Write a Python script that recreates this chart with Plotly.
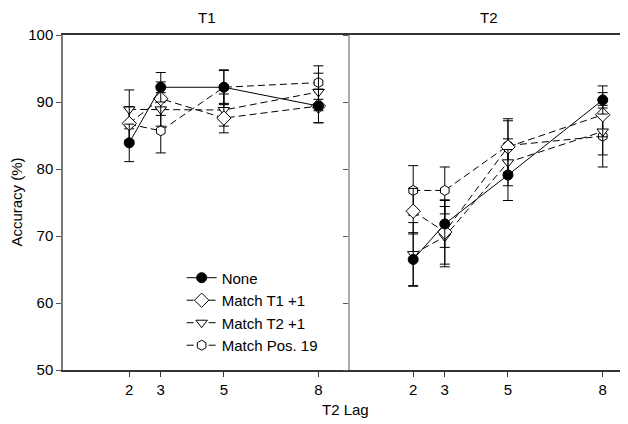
import plotly.graph_objects as go
from plotly.subplots import make_subplots

lags = [2, 3, 5, 8]
tick_labels = ["2", "3", "5", "8"]
series_names = ["None", "Match T1 +1", "Match T2 +1", "Match Pos. 19"]

# T1 panel
t1_none = [83.9, 92.2, 92.2, 89.4]
t1_none_err = [2.8, 2.2, 2.5, 2.5]
t1_m1 = [86.8, 90.5, 87.6, 89.4]
t1_m1_err = [2.5, 2.5, 2.2, 2.5]
t1_m2 = [88.9, 88.9, 88.8, 91.5]
t1_m2_err = [2.9, 2.5, 2.4, 2.8]
t1_p19 = [86.7, 85.7, 92.2, 92.9]
t1_p19_err = [2.5, 3.3, 2.6, 2.5]

# T2 panel
t2_none = [66.5, 71.8, 79.1, 90.3]
t2_none_err = [4.0, 3.5, 3.8, 2.1]
t2_m1 = [73.7, 70.6, 83.3, 88.1]
t2_m1_err = [3.4, 4.8, 3.9, 3.3]
t2_m2 = [67.3, 69.9, 81.0, 85.6]
t2_m2_err = [4.7, 4.5, 3.5, 3.5]
t2_p19 = [76.8, 76.8, 83.5, 84.9]
t2_p19_err = [3.7, 3.5, 4.0, 4.6]

styles = [
    dict(symbol="circle", fill="black", dash="solid", size=10),
    dict(symbol="diamond", fill="white", dash="7px,4px", size=11),
    dict(symbol="triangle-down", fill="white", dash="7px,4px", size=10),
    dict(symbol="hexagon", fill="white", dash="7px,4px", size=10),
]

fig = make_subplots(rows=1, cols=2, horizontal_spacing=0)

panels = [
    (1, [t1_none, t1_m1, t1_m2, t1_p19], [t1_none_err, t1_m1_err, t1_m2_err, t1_p19_err]),
    (2, [t2_none, t2_m1, t2_m2, t2_p19], [t2_none_err, t2_m1_err, t2_m2_err, t2_p19_err]),
]

for col, vals, errs in panels:
    order = [3, 2, 1, 0]
    for i in order:
        st = styles[i]
        fig.add_trace(go.Scatter(
            x=lags, y=vals[i], name=series_names[i],
            mode="lines+markers",
            line=dict(color="black", width=1, dash=st["dash"]),
            marker=dict(symbol=st["symbol"], size=st["size"], color=st["fill"],
                        line=dict(color="black", width=1)),
            error_y=dict(type="data", array=errs[i], visible=True,
                         color="black", thickness=1, width=5),
            showlegend=(col == 1), legendrank=i + 1,
        ), row=1, col=col)

axis_font = dict(family="Liberation Sans, Arial, sans-serif", size=15, color="black")

fig.update_layout(
    width=620, height=416,
    margin=dict(l=55, r=0, t=27, b=54),
    paper_bgcolor="white", plot_bgcolor="white",
    font=axis_font,
    legend=dict(x=0.21, y=0.324, xanchor="left", yanchor="top",
                bgcolor="rgba(0,0,0,0)", font=dict(size=15), tracegroupgap=0,
                itemwidth=30),
)

fig.update_xaxes(domain=[0, 0.508], range=[-0.1, 9.0], row=1, col=1)
fig.update_xaxes(domain=[0.508, 1.0], range=[0, 8.8], row=1, col=2)
fig.update_xaxes(tickmode="array", tickvals=lags, ticktext=tick_labels,
                 ticks="outside", ticklen=5, tickcolor="#333",
                 showline=True, linecolor="#333", linewidth=1.5, mirror=True,
                 showgrid=False, zeroline=False, tickfont=axis_font, automargin=False)

fig.update_yaxes(range=[50, 100], tickvals=[50, 60, 70, 80, 90, 100],
                 ticks="outside", ticklen=5, tickcolor="#555",
                 showline=True, linecolor="#777", linewidth=1.5,
                 showgrid=False, zeroline=False, tickfont=axis_font, automargin=False)
fig.update_yaxes(showticklabels=False, linecolor="#aaa", row=1, col=2)

fig.add_annotation(text="Accuracy (%)", x=-0.083, y=0.5, xref="paper", yref="paper",
                   xanchor="center", yanchor="middle", textangle=-90, showarrow=False, font=axis_font)
fig.add_annotation(text="T2 Lag", x=0.5, y=-0.119, xref="paper", yref="paper",
                   xanchor="center", yanchor="middle", showarrow=False, font=axis_font)
fig.add_annotation(text="T1", x=0.254, y=1.0, xref="paper", yref="paper",
                   xanchor="center", yanchor="bottom", yshift=7, showarrow=False, font=axis_font)
fig.add_annotation(text="T2", x=0.754, y=1.0, xref="paper", yref="paper",
                   xanchor="center", yanchor="bottom", yshift=7, showarrow=False, font=axis_font)

fig.write_html("out.html")
